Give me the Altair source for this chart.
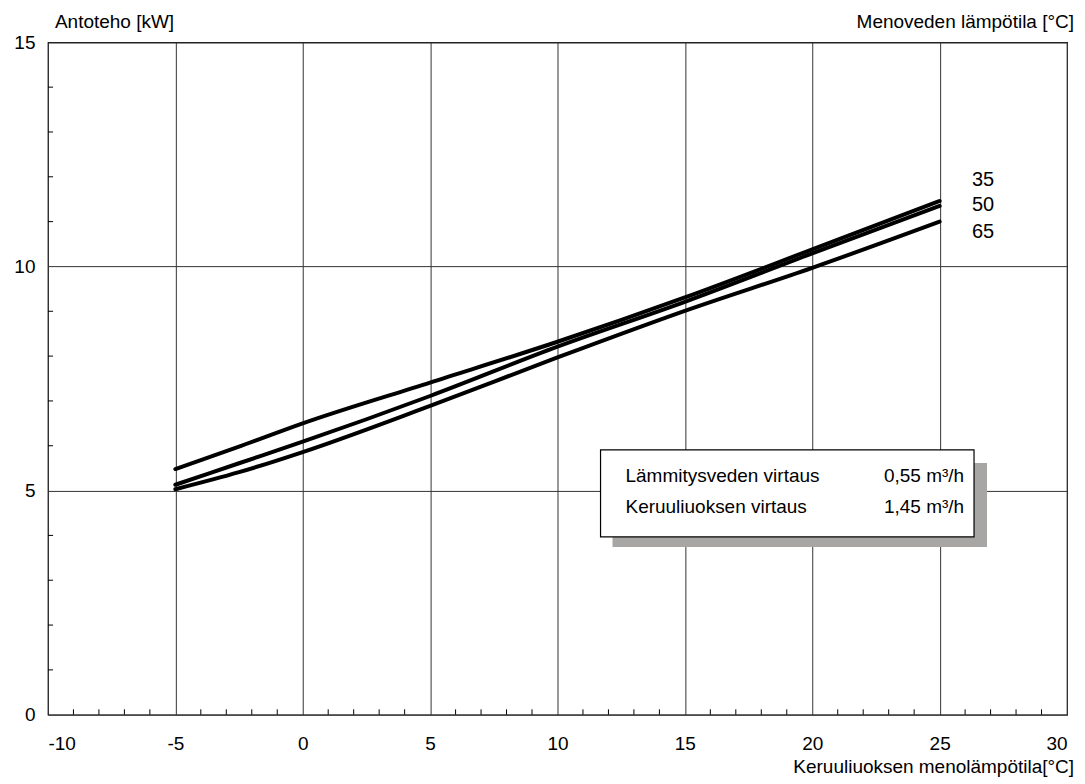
import altair as alt
import pandas as pd

# --- data ---
x_pts = [-5, -2.5, 0, 5, 10, 15, 20, 25]
y_35 = [5.48, 5.98, 6.50, 7.41, 8.32, 9.31, 10.38, 11.46]
y_50 = [5.13, 5.61, 6.09, 7.11, 8.21, 9.21, 10.29, 11.35]
y_65 = [5.03, 5.41, 5.86, 6.89, 7.97, 9.01, 9.97, 11.00]
series_names = ["35", "50", "65"]
label_y = [11.92, 11.37, 10.77]
label_x = 26.27

x_major = [-10, -5, 0, 5, 10, 15, 20, 25, 30]
y_major = [0, 5, 10, 15]
x_minor = [v for v in range(-9, 30) if v % 5 != 0]
y_minor = [v for v in range(1, 15) if v % 5 != 0]

info_left = ["Lämmitysveden virtaus", "Keruuliuoksen virtaus"]
info_right = ["0,55 m³/h", "1,45 m³/h"]
info_y = [5.33, 4.64]

FONT = "Liberation Sans"
W, H = 1020, 673

rows = []
for name, ys in zip(series_names, [y_35, y_50, y_65]):
    for xv, yv in zip(x_pts, ys):
        rows.append({"x": xv, "y": yv, "s": name})
df = pd.DataFrame(rows)

xs = alt.Scale(domain=[-10, 30], nice=False, zero=False)
ys_ = alt.Scale(domain=[0, 15], nice=False, zero=False)

lab_expr = "datum.value < 0 ? '-' + abs(datum.value) : '' + datum.value"
xax = alt.Axis(values=x_major, grid=True, gridColor="#333333", gridWidth=1,
               ticks=False, domain=False, labelFont=FONT, labelFontSize=19,
               labelColor="black", labelPadding=20, title=None, labelExpr=lab_expr)
yax = alt.Axis(values=y_major, grid=True, gridColor="#333333", gridWidth=1,
               ticks=False, domain=False, labelFont=FONT, labelFontSize=19,
               labelColor="black", labelPadding=13, title=None)

lines = alt.Chart(df).mark_line(color="black", strokeWidth=4, interpolate="monotone",
                                strokeCap="round").encode(
    x=alt.X("x:Q", scale=xs, axis=xax),
    y=alt.Y("y:Q", scale=ys_, axis=yax),
    detail="s:N",
)

# minor ticks (inward)
xm = pd.DataFrame({"x": x_minor, "y": 0.0, "y2": 0.12})
ym = pd.DataFrame({"y": y_minor, "x": -10.0, "x2": -9.8})
xticks = alt.Chart(xm).mark_rule(color="black", strokeWidth=1).encode(
    x=alt.X("x:Q", scale=xs), y=alt.Y("y:Q", scale=ys_), y2="y2:Q")
yticks = alt.Chart(ym).mark_rule(color="black", strokeWidth=1).encode(
    y=alt.Y("y:Q", scale=ys_), x=alt.X("x:Q", scale=xs), x2="x2:Q")

# info box
shadow = alt.Chart(pd.DataFrame({"x": [12.16], "x2": [26.86], "y": [5.616], "y2": [3.744]})).mark_rect(
    color="#a8a5a5").encode(x=alt.X("x:Q", scale=xs), x2="x2:Q", y=alt.Y("y:Q", scale=ys_), y2="y2:Q")
box = alt.Chart(pd.DataFrame({"x": [11.69], "x2": [26.35], "y": [5.906], "y2": [3.967]})).mark_rect(
    fill="white", stroke="black", strokeWidth=1.2).encode(
    x=alt.X("x:Q", scale=xs), x2="x2:Q", y=alt.Y("y:Q", scale=ys_), y2="y2:Q")
info_df = pd.DataFrame({"l": info_left, "r": info_right, "y": info_y, "xl": 12.67, "xr": 25.96})
info_l = alt.Chart(info_df).mark_text(align="left", baseline="middle", font=FONT, fontSize=19,
                                      color="black").encode(
    x=alt.X("xl:Q", scale=xs), y=alt.Y("y:Q", scale=ys_), text="l:N")
info_r = alt.Chart(info_df).mark_text(align="right", baseline="middle", font=FONT, fontSize=19,
                                      color="black").encode(
    x=alt.X("xr:Q", scale=xs), y=alt.Y("y:Q", scale=ys_), text="r:N")

# series labels
lab_df = pd.DataFrame({"t": series_names, "y": label_y, "x": label_x})
labels = alt.Chart(lab_df).mark_text(align="left", baseline="middle", font=FONT, fontSize=20,
                                     color="black").encode(
    x=alt.X("x:Q", scale=xs), y=alt.Y("y:Q", scale=ys_), text="t:N")

# titles
def ptext(txt, x, y, align):
    return alt.Chart(pd.DataFrame({"t": [txt]})).mark_text(
        align=align, baseline="middle", font=FONT, fontSize=19, color="black").encode(
        x=alt.value(x), y=alt.value(y), text="t:N")

t_y = ptext("Antoteho [kW]", 7, -20, "left")
t_leg = ptext("Menoveden lämpötila [°C]", 1027, -20, "right")
t_x = ptext("Keruuliuoksen menolämpötila[°C]", 1027, 725, "right")

chart = alt.layer(lines, xticks, yticks, shadow, box, info_l, info_r, labels, t_y, t_leg, t_x).properties(
    width=W, height=H,
    autosize=alt.AutoSizeParams(type="none"),
    padding={"left": 40, "top": 34, "right": 10, "bottom": 68},
    background="white",
).configure_view(stroke="black", strokeWidth=1.2)

chart.save("out.html", embed_options={"renderer": "svg", "actions": False})
